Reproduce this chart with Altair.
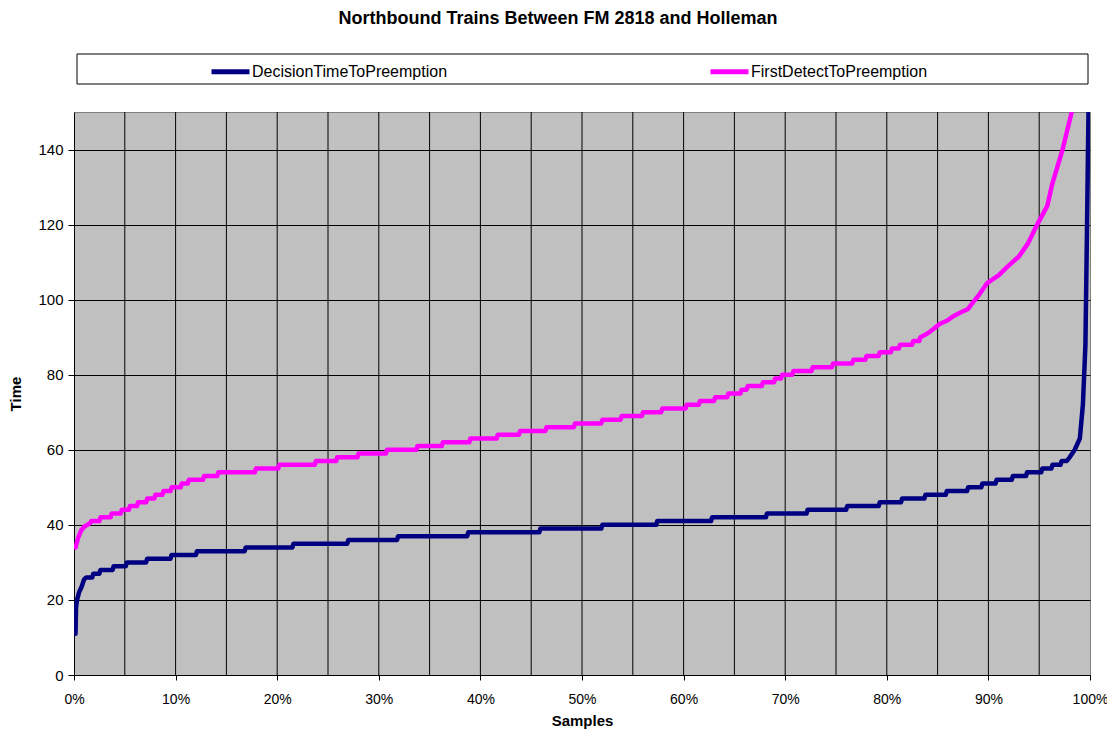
import altair as alt
import pandas as pd

# ---- data (percent of samples, time) ----
decision_pct = [0.15, 0.2, 0.3, 0.5, 0.75, 1.0, 1.2, 1.8, 1.9, 2.5, 2.6, 3.8, 3.9, 5.1, 5.2, 7.1,
                7.2, 9.5, 9.6, 12.0, 12.1, 16.8, 16.9, 21.5, 21.6, 26.9, 27.0, 31.8, 31.9, 38.7,
                38.8, 45.8, 45.9, 51.9, 52.0, 57.3, 57.4, 62.7, 62.8, 68.1, 68.2, 72.1, 72.2, 76.0,
                76.1, 79.2, 79.3, 81.4, 81.5, 83.7, 83.8, 85.8, 85.9, 87.9, 88.0, 89.3, 89.4, 90.7,
                90.8, 92.3, 92.4, 93.7, 93.8, 95.2, 95.3, 96.2, 96.3, 97.1, 97.2, 97.7, 98.0, 98.5,
                99.0, 99.3, 99.55, 99.7, 99.85]
decision_val = [11, 18, 20, 22, 23.5, 25.5, 26, 26, 27, 27, 28, 28, 29, 29, 30, 30,
                31, 31, 32, 32, 33, 33, 34, 34, 35, 35, 36, 36, 37, 37,
                38, 38, 39, 39, 40, 40, 41, 41, 42, 42, 43, 43, 44, 44,
                45, 45, 46, 46, 47, 47, 48, 48, 49, 49, 50, 50, 51, 51,
                52, 52, 53, 53, 54, 54, 55, 55, 56, 56, 57, 57, 58, 60,
                63, 72, 88, 118, 150]

first_pct = [0.15, 0.4, 0.7, 1.0, 1.3, 1.6, 1.7, 2.5, 2.6, 3.6, 3.7, 4.6, 4.7, 5.4, 5.5, 6.2,
             6.3, 7.1, 7.2, 7.9, 8.0, 8.7, 8.8, 9.5, 9.6, 10.5, 10.6, 11.2, 11.3, 12.7, 12.8,
             14.1, 14.2, 17.8, 17.9, 20.1, 20.2, 23.7, 23.8, 25.8, 25.9, 27.9, 28.0, 30.7, 30.8,
             33.7, 33.8, 36.2, 36.3, 38.9, 39.0, 41.6, 41.7, 43.8, 43.9, 46.4, 46.5, 49.2, 49.3,
             51.9, 52.0, 53.8, 53.9, 55.9, 56.0, 57.8, 57.9, 60.2, 60.3, 61.5, 61.6, 63.0, 63.1,
             64.3, 64.4, 65.6, 65.7, 66.2, 66.3, 67.7, 67.8, 68.9, 69.0, 69.6, 69.7, 70.7, 70.8,
             72.6, 72.7, 74.6, 74.7, 76.6, 76.7, 77.9, 78.0, 79.2, 79.3, 80.4, 80.5, 81.2, 81.3,
             82.5, 82.6, 83.2, 83.3, 84.0, 84.5, 85.2, 86.0, 86.5, 87.2, 88.0, 88.4, 89.0, 89.9,
             91.0, 91.8, 93.0, 93.9, 94.8, 95.8, 96.3, 97.3, 98.2]
first_val = [34, 36.5, 38.5, 39.5, 40, 40.5, 41, 41, 42, 42, 43, 43, 44, 44, 45, 45,
             46, 46, 47, 47, 48, 48, 49, 49, 50, 50, 51, 51, 52, 52, 53,
             53, 54, 54, 55, 55, 56, 56, 57, 57, 58, 58, 59, 59, 60,
             60, 61, 61, 62, 62, 63, 63, 64, 64, 65, 65, 66, 66, 67,
             67, 68, 68, 69, 69, 70, 70, 71, 71, 72, 72, 73, 73, 74,
             74, 75, 75, 76, 76, 77, 77, 78, 78, 79, 79, 80, 80, 81,
             81, 82, 82, 83, 83, 84, 84, 85, 85, 86, 86, 87, 87, 88,
             88, 89, 89, 90, 91, 92, 93.5, 94.5, 95.5, 96.5, 97.5, 99, 101, 104.5,
             106.5, 108.6, 111.5, 115, 120, 125, 131, 140, 150]

series_names = ["DecisionTimeToPreemption", "FirstDetectToPreemption"]
series_colors = ["#000080", "#FF00FF"]

x_tick_values = [0, 0.1, 0.2, 0.3, 0.4, 0.5, 0.6, 0.7, 0.8, 0.9, 1.0]
x_grid_values = [0.05, 0.1, 0.15, 0.2, 0.25, 0.3, 0.35, 0.4, 0.45, 0.5, 0.55, 0.6, 0.65,
                 0.7, 0.75, 0.8, 0.85, 0.9, 0.95]
y_tick_values = [0, 20, 40, 60, 80, 100, 120, 140]

rows = []
for i, (p, v) in enumerate(zip(decision_pct, decision_val)):
    rows.append({"Samples": p / 100.0, "Time": v, "Series": series_names[0], "ord": i})
for i, (p, v) in enumerate(zip(first_pct, first_val)):
    rows.append({"Samples": p / 100.0, "Time": v, "Series": series_names[1], "ord": i})
df = pd.DataFrame(rows)
grid_df = pd.DataFrame({"Samples": x_grid_values})

FONT = "Liberation Sans"
W, H = 1016, 563

x_scale = alt.Scale(domain=[0, 1], nice=False, zero=False)
y_scale = alt.Scale(domain=[0, 150], nice=False)
x_axis = alt.Axis(values=x_tick_values, format=".0%", grid=False, title="Samples",
                  tickSize=5, labelPadding=12, titlePadding=7, labelFlush=False,
                  labelOverlap=False, labelFontSize=14)

frame = alt.Chart(pd.DataFrame({"a": [0]})).mark_rect(
    fill="white", stroke="black", strokeWidth=1
).encode(
    x=alt.value(3), x2=alt.value(1014), y=alt.value(-58), y2=alt.value(-28)
)

grid = alt.Chart(grid_df).mark_rule(color="black", strokeWidth=1).encode(
    x=alt.X("Samples:Q", scale=x_scale, axis=x_axis)
)

lines = alt.Chart(df).mark_line(
    strokeWidth=4.5, clip=True, strokeCap="round", strokeJoin="round"
).encode(
    x=alt.X("Samples:Q", scale=x_scale, axis=x_axis),
    y=alt.Y("Time:Q", scale=y_scale,
            axis=alt.Axis(values=y_tick_values, grid=True, gridColor="black", gridWidth=1,
                          gridOpacity=1, title="Time", tickSize=6, labelPadding=5,
                          titlePadding=14)),
    color=alt.Color("Series:N",
                    scale=alt.Scale(domain=series_names, range=series_colors),
                    legend=alt.Legend(orient="none", legendX=135, legendY=-62,
                                      direction="horizontal", title=None,
                                      symbolType="stroke", symbolStrokeWidth=5,
                                      symbolSize=1444, labelFontSize=16, labelFont=FONT,
                                      labelColor="black", labelOffset=0, columnPadding=252,
                                      labelLimit=400, padding=0)),
    order="ord:Q",
)

chart = alt.layer(frame, grid, lines).properties(
    width=W, height=H,
    title=alt.TitleParams("Northbound Trains Between FM 2818 and Holleman",
                          font=FONT, fontSize=18, fontWeight="bold", color="black",
                          anchor="middle", frame="group", dx=-24, offset=22),
    autosize=alt.AutoSizeParams(type="none"),
    padding={"left": 66, "top": 104, "right": 17, "bottom": 56},
).configure_view(
    fill="#C0C0C0", stroke="#808080", strokeWidth=1
).configure_axis(
    labelFont=FONT, titleFont=FONT, labelFontSize=15, titleFontSize=15,
    titleFontWeight="bold", labelColor="black", titleColor="black",
    tickColor="black", domainColor="black", domainWidth=1, tickWidth=1
)

chart.save("out.html", embed_options={"renderer": "svg", "actions": False})
